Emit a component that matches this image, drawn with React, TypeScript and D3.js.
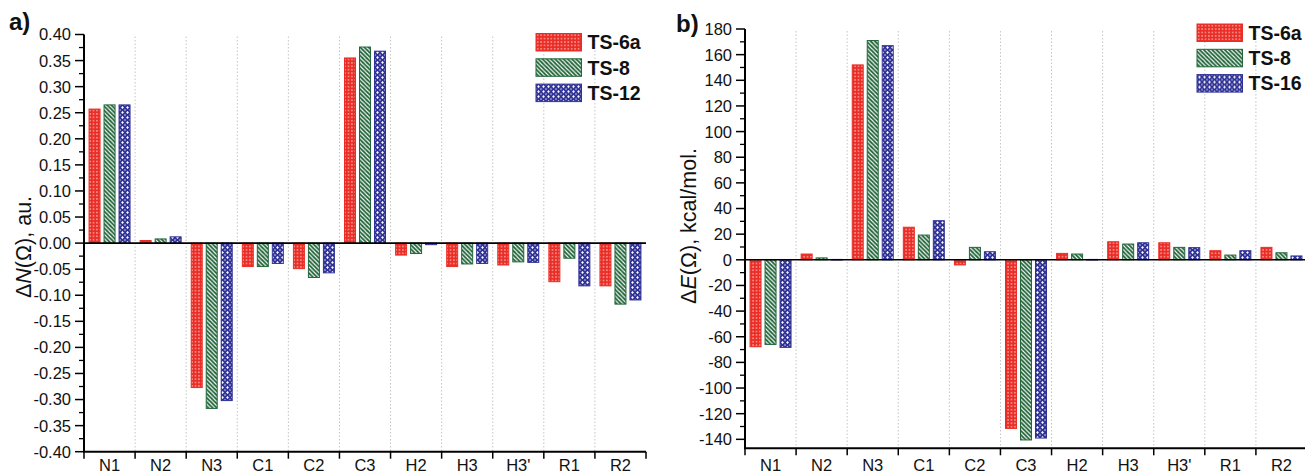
import React from "react";
import * as d3 from "d3";

const categories = ["N1", "N2", "N3", "C1", "C2", "C3", "H2", "H3", "H3'", "R1", "R2"];

const seriesA = ["TS-6a", "TS-8", "TS-12"];
const seriesB = ["TS-6a", "TS-8", "TS-16"];

const dN_TS6a = [0.257, 0.005, -0.277, -0.045, -0.049, 0.355, -0.023, -0.045, -0.042, -0.074, -0.082];
const dN_TS8 = [0.265, 0.008, -0.317, -0.045, -0.066, 0.376, -0.020, -0.040, -0.036, -0.029, -0.117];
const dN_TS12 = [0.265, 0.012, -0.302, -0.039, -0.057, 0.368, -0.003, -0.039, -0.037, -0.082, -0.109];

const dE_TS6a = [-67.8, 4.5, 152.0, 25.4, -4.0, -131.5, 5.0, 14.1, 13.3, 7.1, 9.7];
const dE_TS8 = [-66.0, 1.5, 171.0, 19.3, 9.7, -140.5, 4.5, 12.3, 9.7, 3.7, 5.5];
const dE_TS16 = [-68.3, 0.3, 167.0, 30.5, 6.3, -139.0, 0.3, 13.3, 9.5, 7.1, 3.0];

const ticksA = d3.range(-0.4, 0.4001, 0.05).map((v) => Math.round(v * 100) / 100);
const ticksB = d3.range(-140, 181, 20);

const FONT = "'Liberation Sans', Arial, Helvetica, sans-serif";
const colors = ["#ea2e27", "#22663a", "#2f3195"];
const patternIds = ["patRed", "patGreen", "patBlue"];

function Patterns() {
  return (
    <defs>
      <pattern id="patRed" patternUnits="userSpaceOnUse" width={3.4} height={3.4}>
        <rect width={3.4} height={3.4} fill={colors[0]} />
        <rect x={1.1} y={1.1} width={1.2} height={1.2} fill="#ffffff" opacity={0.85} />
      </pattern>
      <pattern id="patGreen" patternUnits="userSpaceOnUse" width={4.2} height={4.2}>
        <rect width={4.2} height={4.2} fill={colors[1]} />
        <path d="M-1,-1 L5.2,5.2 M-1,3.2 L1,5.2 M3.2,-1 L5.2,1" stroke="#ffffff" strokeWidth={1.05} />
      </pattern>
      <pattern id="patBlue" patternUnits="userSpaceOnUse" width={5} height={5}>
        <rect width={5} height={5} fill={colors[2]} />
        <path d="M2.5,1.1 L3.9,2.5 L2.5,3.9 L1.1,2.5 Z" fill="#ffffff" />
        <path d="M0,-1.2 L1.2,0 L0,1.2 L-1.2,0 Z M5,-1.2 L6.2,0 L5,1.2 L3.8,0 Z M0,3.8 L1.2,5 L0,6.2 L-1.2,5 Z M5,3.8 L6.2,5 L5,6.2 L3.8,5 Z" fill="#ffffff" opacity={0.5} />
      </pattern>
    </defs>
  );
}

type PanelProps = {
  letter: string;
  letterX: number;
  letterY: number;
  x0: number;
  x1: number;
  yDomain: [number, number];
  yRange: [number, number];
  ticks: number[];
  minorStep: number;
  fmt: (v: number) => string;
  data: number[][];
  series: string[];
  legendX: number;
  legendY: number;
  titleX: number;
  titleY: number;
  titleParts: [string, string, string];
};

function Panel(p: PanelProps) {
  const xb = d3.scaleBand<string>().domain(categories).range([p.x0, p.x1]).paddingInner(0).paddingOuter(0);
  const xs = d3.scaleBand<string>().domain(p.series).range([0, xb.bandwidth()]).paddingInner(0.267).paddingOuter(0.337);
  const y = d3.scaleLinear().domain(p.yDomain).range(p.yRange);
  const yTop = y(p.ticks[p.ticks.length - 1]);
  const yBot = p.yRange[0];
  const minorTicks = d3
    .range(Math.ceil(p.yDomain[0] / p.minorStep), Math.floor(p.yDomain[1] / p.minorStep) + 1)
    .filter((k) => k % 2 !== 0)
    .map((k) => k * p.minorStep);
  const boundaries = categories.map((c) => xb(c)!).concat([p.x1]);
  return (
    <g>
      {boundaries.slice(1, -1).map((bx, i) => (
        <line key={"g" + i} x1={bx} x2={bx} y1={yTop + 2} y2={yBot} stroke="#c4c4c4" strokeWidth={1} strokeDasharray="1.5,2" />
      ))}
      {p.data.map((vals, si) =>
        vals.map((v, ci) => {
          const bx = xb(categories[ci])! + xs(p.series[si])!;
          const y0 = y(0);
          const yv = y(v);
          const top = Math.min(y0, yv);
          const h = Math.abs(yv - y0);
          return (
            <rect
              key={"b" + si + "-" + ci}
              x={bx}
              y={top}
              width={xs.bandwidth()}
              height={Math.max(h, 0.6)}
              fill={`url(#${patternIds[si]})`}
              stroke={colors[si]}
              strokeWidth={1}
            />
          );
        })
      )}
      <line x1={p.x0} x2={p.x1} y1={y(0)} y2={y(0)} stroke="#000" strokeWidth={1.6} />
      <line x1={p.x0} x2={p.x0} y1={yTop} y2={yBot} stroke="#000" strokeWidth={2} />
      {p.ticks.map((t) => (
        <g key={"t" + t}>
          <line x1={p.x0 - 9} x2={p.x0} y1={y(t)} y2={y(t)} stroke="#000" strokeWidth={1.5} />
          <text x={p.x0 - 13} y={y(t)} dy="0.36em" textAnchor="end" fontSize={16.5} fontFamily={FONT} fill="#111">
            {p.fmt(t)}
          </text>
        </g>
      ))}
      {minorTicks.map((t) => (
        <line key={"m" + t} x1={p.x0 - 5} x2={p.x0} y1={y(t)} y2={y(t)} stroke="#000" strokeWidth={1.3} />
      ))}
      <line x1={p.x0 - 1} x2={p.x1} y1={yBot} y2={yBot} stroke="#000" strokeWidth={2} />
      {boundaries.map((bx, i) => (
        <line key={"xt" + i} x1={bx} x2={bx} y1={yBot} y2={yBot + 7} stroke="#000" strokeWidth={1.5} />
      ))}
      {categories.map((c) => (
        <text key={"xl" + c} x={xb(c)! + xb.bandwidth() / 2} y={470.5} textAnchor="middle" fontSize={16.5} fontFamily={FONT} fill="#111">
          {c}
        </text>
      ))}
      <text x={p.letterX} y={p.letterY} fontSize={24} fontWeight="bold" fontFamily={FONT} fill="#111">
        {p.letter}
      </text>
      <text
        transform={`translate(${p.titleX},${p.titleY}) rotate(-90)`}
        textAnchor="middle"
        fontSize={21.5}
        fontFamily={FONT}
        fill="#111"
      >
        {p.titleParts[0]}
        <tspan fontStyle="italic">{p.titleParts[1]}</tspan>
        {p.titleParts[2]}
      </text>
      {p.series.map((s, i) => (
        <g key={"lg" + s} transform={`translate(${p.legendX},${p.legendY + i * 25.3})`}>
          <rect x={0} y={0} width={45.5} height={17.5} fill={`url(#${patternIds[i]})`} stroke={colors[i]} strokeWidth={1} />
          <text x={51.5} y={8.8} dy="0.36em" fontSize={19.5} fontWeight="bold" fontFamily={FONT} fill="#111">
            {s}
          </text>
        </g>
      ))}
    </g>
  );
}

export default function App() {
  return (
    <svg
      width={1305}
      height={473}
      viewBox="0 0 1305 473"
      style={{ position: "absolute", left: 0, top: 0, background: "#fff" }}
    >
      <Patterns />
      <rect width={1305} height={473} fill="#fff" />
      <Panel
        letter="a)"
        letterX={9}
        letterY={30}
        x0={84}
        x1={646}
        yDomain={[-0.4, 0.4]}
        yRange={[451.7, 34.5]}
        ticks={ticksA}
        minorStep={0.025}
        fmt={(v) => d3.format(".2f")(v).replace("−", "-")}
        data={[dN_TS6a, dN_TS8, dN_TS12]}
        series={seriesA}
        legendX={536}
        legendY={33.5}
        titleX={31}
        titleY={247}
        titleParts={["Δ", "N", "(Ω), au."]}
      />
      <Panel
        letter="b)"
        letterX={676}
        letterY={32}
        x0={745}
        x1={1307}
        yDomain={[-147, 180]}
        yRange={[448.3, 29]}
        ticks={ticksB}
        minorStep={10}
        fmt={(v) => String(v)}
        data={[dE_TS6a, dE_TS8, dE_TS16]}
        series={seriesB}
        legendX={1197}
        legendY={24}
        titleX={696}
        titleY={226}
        titleParts={["Δ", "E", "(Ω), kcal/mol."]}
      />
    </svg>
  );
}
